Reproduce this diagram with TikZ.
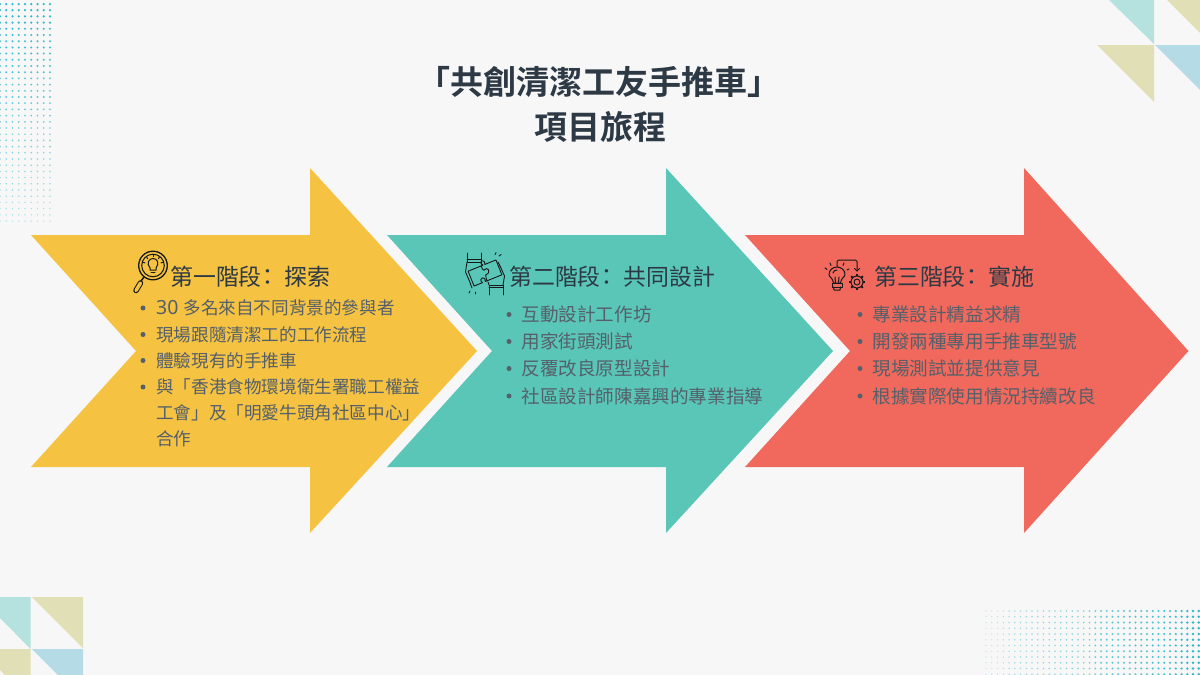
\documentclass[tikz,border=0pt]{standalone}
\usepackage{fontspec}
\setmainfont{Noto Sans CJK TC}
\newfontfamily\titlefont{Noto Sans CJK TC Bold}
\newfontfamily\latinfont{Noto Sans}
\definecolor{bgc}{HTML}{F7F7F7}
\definecolor{yel}{HTML}{F5C242}
\definecolor{tea}{HTML}{5AC6B7}
\definecolor{redc}{HTML}{F0695C}
\definecolor{ink}{HTML}{2D3A45}
\definecolor{body}{HTML}{55606A}
\definecolor{iconc}{HTML}{16181A}
\definecolor{tri1}{HTML}{B5E2DE}
\definecolor{tri2}{HTML}{E1DFB5}
\definecolor{tri3}{HTML}{B5DCE6}
\definecolor{dot}{HTML}{1FB5C6}
\tikzset{
  txt/.style={anchor=west,inner sep=0pt,text=body,font=\fontsize{17.6}{20}\selectfont},
  txtb/.style={anchor=west,inner sep=0pt,text=body,font=\fontsize{18.6}{20}\selectfont},
  head/.style={anchor=west,inner sep=0pt,text=ink,font=\fontsize{22.9}{24}\selectfont},
  ttl/.style={inner sep=0pt,text=ink,font=\titlefont\fontsize{33}{36}\selectfont},
  icon/.style={draw=iconc,line width=1pt,fill=none,line join=round,line cap=round},
}
\newcommand{\colonmark}{\kern-5pt：\kern5pt}
\newcommand{\bigarrow}[3]{%
  \fill[#2] (#1,235) -- (#1+279,235) -- (#1+279,168) -- (#1+#3,351) -- (#1+279,533) -- (#1+279,467) -- (#1,467) -- (#1+105,351) -- cycle;}
\newcommand{\bul}[6][txt]{%
  \fill[body] (#2,#3) circle (2.5);
  \node[#1] (#5) at (#4,#3) {#6};}
\begin{document}
\begin{tikzpicture}[x=1pt,y=-1pt]
\useasboundingbox (0,0) rectangle (1200,675);
\fill[bgc] (0,0) rectangle (1200,675);
% dots
\foreach \i in {0,...,8}{\foreach \j in {0,...,35}{
  \pgfmathsetmacro{\op}{0.95-0.6*\j/35}
  \pgfmathsetmacro{\rr}{1.25-0.5*\j/35}
  \fill[dot,opacity=\op] (\i*6.25,4+\j*6.2) circle (\rr);
}}
\foreach \i in {0,...,37}{\foreach \j in {0,...,11}{
  \pgfmathsetmacro{\op}{0.3+0.65*\i/37}
  \pgfmathsetmacro{\rr}{0.7+0.6*\i/37}
  \fill[dot,opacity=\op] (986+\i*5.75,611+\j*5.75) circle (\rr);
}}
% triangles
\fill[tri1] (1109,0) -- (1154,0) -- (1154,44) -- cycle;
\fill[tri2] (1167,0) -- (1200,0) -- (1200,33) -- cycle;
\fill[tri2] (1097,45) -- (1154,45) -- (1154,102) -- cycle;
\fill[tri3] (1155,45) -- (1200,45) -- (1200,90) -- cycle;
\fill[tri1] (0,597) -- (30.5,597) -- (30.5,649) -- (0,618) -- cycle;
\fill[tri2] (32,597) -- (83,597) -- (83,648) -- cycle;
\fill[tri2] (0,649) -- (30.5,649) -- (30.5,675) -- (5,675) -- (0,670) -- cycle;
\fill[tri3] (32,649) -- (83,649) -- (83,675) -- (58,675) -- cycle;
% arrows
\bigarrow{31}{yel}{446}
\bigarrow{387}{tea}{446}
\bigarrow{745}{redc}{443.5}
% title
\node[ttl] (t1) at (599,82) {「共創清潔工友手推車」};
\node[ttl] (t2) at (600,126.5) {項目旅程};
% stage 1
\node[head] (h1) at (170,277) {第一階段\colonmark 探索};
\bul{143}{308}{156}{a1}{{\latinfont\fontsize{19.5}{20}\selectfont 30 }多名來自不同背景的參與者}
\bul{143}{334.5}{156}{a2}{現場跟隨清潔工的工作流程}
\bul{143}{360.5}{156}{a3}{體驗現有的手推車}
\bul{143}{387}{156}{a4}{與「香港食物環境衛生署職工權益}
\node[txt] (a5) at (156,413) {工會」及「明愛牛頭角社區中心」};
\node[txt] (a6) at (156,439) {合作};
% stage 2
\node[head] (h2) at (509,277) {第二階段\colonmark 共同設計};
\bul[txtb]{509}{314.5}{521.2}{b1}{互動設計工作坊}
\bul[txtb]{509}{341.5}{521.2}{b2}{用家街頭測試}
\bul[txtb]{509}{368.5}{521.2}{b3}{反覆改良原型設計}
\bul[txtb]{509}{396}{521.2}{b4}{社區設計師陳嘉興的專業指導}
% stage 3
\node[head] (h3) at (874,277) {第三階段\colonmark 實施};
\bul[txtb]{860}{314.5}{872.2}{c1}{專業設計精益求精}
\bul[txtb]{860}{341.5}{872.2}{c2}{開發兩種專用手推車型號}
\bul[txtb]{860}{368.5}{872.2}{c3}{現場測試並提供意見}
\bul[txtb]{860}{396}{872.2}{c4}{根據實際使用情況持續改良}
% magnifier icon
\begin{scope}[icon]
  \draw[line width=1.3pt] (153,265.5) circle (14.3);
  \draw (153,265.5) circle (11.3);
  \draw (150,268) .. controls (146,263) and (149,258.5) .. (153,258.5) .. controls (157,258.5) and (160,263) .. (156,268) -- (156,270) -- (150,270) -- cycle;
  \draw (151,272.5) -- (155,272.5);
  \foreach \a in {-165,-130,-90,-50,-15} \draw (153,265)++(\a:8.3) -- ++(\a:1.6);
  \draw[line width=1.5pt] (144,277) -- (141,281);
  \draw[line width=5.5pt,draw=iconc] (140.5,283) -- (136,290.5);
  \draw[line width=3.5pt,draw=yel] (140.5,283) -- (136,290.5);
\end{scope}
% puzzle icon
\begin{scope}[icon,line width=0.9pt]
  \draw (467,253) -- (467,262) -- (481,262) -- (481,253);
  \draw (467,259.5) -- (481,259.5);
  \draw (489,295) -- (489,285) -- (503,285) -- (503,295);
  \draw (489,287.5) -- (503,287.5);
  \draw (467,262) -- (465.5,272) -- (469,280) -- (472,288);
  \draw (481,262) -- (482,265);
  \draw (503,285) -- (504.5,276) -- (501,268) -- (498,262);
  \draw (489,285) -- (488,282);
  \begin{scope}[shift={(485,273)},rotate=22]
    \draw (-15,-8) -- (1,-8) .. controls (-3,-14) and (6,-14) .. (3,-8) -- (15,-8) -- (15,8)
      -- (-3,8) .. controls (0,2) and (-9,2) .. (-6,8) -- (-15,8) -- cycle;
    \draw (-1,-8) .. controls (-1,-5) and (-1,-4) .. (0,-3) .. controls (5,-6) and (7,2) .. (0,2) .. controls (-1,4) and (-1,6) .. (-1,8);
  \end{scope}
  \draw (495,254.5) -- (496,252.5);
  \draw (499,256) -- (501,254.5);
  \draw (470,291) -- (469,293);
  \draw (475,292) -- (475,294);
\end{scope}
% bulb and gear icon
\begin{scope}[icon]
  \draw (833.5,283) .. controls (833,278) and (829,277) .. (829,274.5) .. controls (829,270) and (833,267) .. (837,267) .. controls (841,267) and (845,270) .. (845,274.5) .. controls (845,277) and (841,278) .. (840.5,283) -- cycle;
  \draw (833,273) .. controls (833.5,271) and (835,270) .. (837,270);
  \draw (835.5,283) -- (835,277);
  \draw (838.5,283) -- (839,277);
  \draw (832,283.5) rectangle (842,287);
  \draw (833.5,287) -- (834,290) -- (840,290) -- (840.5,287);
  \draw (825,268) -- (827,269.5);
  \draw (830,263) -- (831,265.5);
  \draw (844,263) -- (843,265.5);
  \draw (849,269) -- (847,270);
  \draw (837,267) -- (837,262) [rounded corners=1.5pt] -- (837,260) -- (857,260) -- (857,271);
  \draw (854.5,268.5) -- (857,271) -- (859.5,268.5);
  \draw (857,282) circle (3);
  \draw (857,282) circle (6);
  \foreach \a in {0,45,...,315} \draw[line width=2pt,line cap=butt] (857,282)++(\a:6) -- ++(\a:2.2);
\end{scope}
\end{tikzpicture}
\end{document}
